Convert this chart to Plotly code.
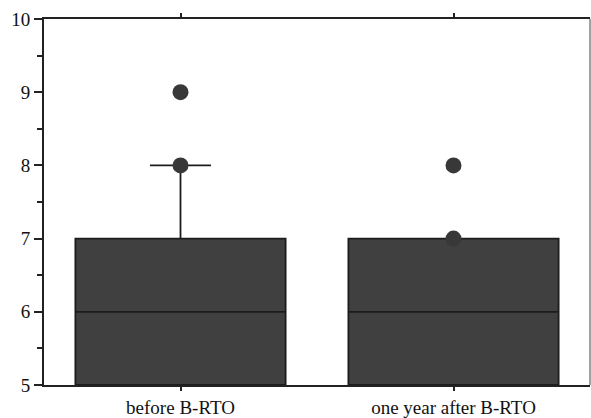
import plotly.graph_objects as go

categories = ["before B-RTO", "one year after B-RTO"]
q1 = [5, 5]
median = [6, 6]
q3 = [7, 7]
lowerfence = [5, 5]
upperfence = [8, 7]
outlier_x = ["before B-RTO", "before B-RTO", "one year after B-RTO", "one year after B-RTO"]
outlier_y = [9, 8, 8, 7]
y_ticks = [5, 6, 7, 8, 9, 10]

fig = go.Figure()
fig.add_trace(go.Box(
    x=categories, q1=q1, median=median, q3=q3,
    lowerfence=lowerfence, upperfence=upperfence,
    width=0.77, whiskerwidth=0.29, boxpoints=False,
    fillcolor="#404040", line=dict(color="#1c1c1c", width=1.8),
    showlegend=False, hoverinfo="skip",
))
fig.add_trace(go.Scatter(
    x=outlier_x, y=outlier_y, mode="markers",
    marker=dict(size=16, color="#383838", line=dict(width=0)),
    showlegend=False, hoverinfo="skip",
))

font = "Liberation Serif, Times New Roman, serif"
fig.update_layout(
    width=591, height=418,
    margin=dict(l=44, r=1, t=19, b=33),
    paper_bgcolor="white", plot_bgcolor="white",
    font=dict(family=font, size=19, color="#111"),
    xaxis=dict(
        type="category", categoryarray=categories, range=[-0.5, 1.5],
        showgrid=False, zeroline=False, automargin=False,
        showline=True, linecolor="#222", linewidth=2,
        ticks="outside", ticklen=4, tickwidth=1.5, tickcolor="#222",
        mirror="ticks", tickfont=dict(size=19),
    ),
    yaxis=dict(
        range=[5, 10], tickvals=y_ticks,
        showgrid=False, zeroline=False, automargin=False,
        showline=True, linecolor="#222", linewidth=2,
        ticks="outside", ticklen=8, tickwidth=1.5, tickcolor="#222",
        minor=dict(dtick=0.5, ticks="outside", ticklen=5, tickwidth=1.5, tickcolor="#222", showgrid=False),
        tickfont=dict(size=19),
    ),
    shapes=[dict(type="line", xref="paper", yref="paper", x0=1, x1=1, y0=0, y1=1,
                 line=dict(color="#444", width=1))],
)

fig.write_html("out.html")
